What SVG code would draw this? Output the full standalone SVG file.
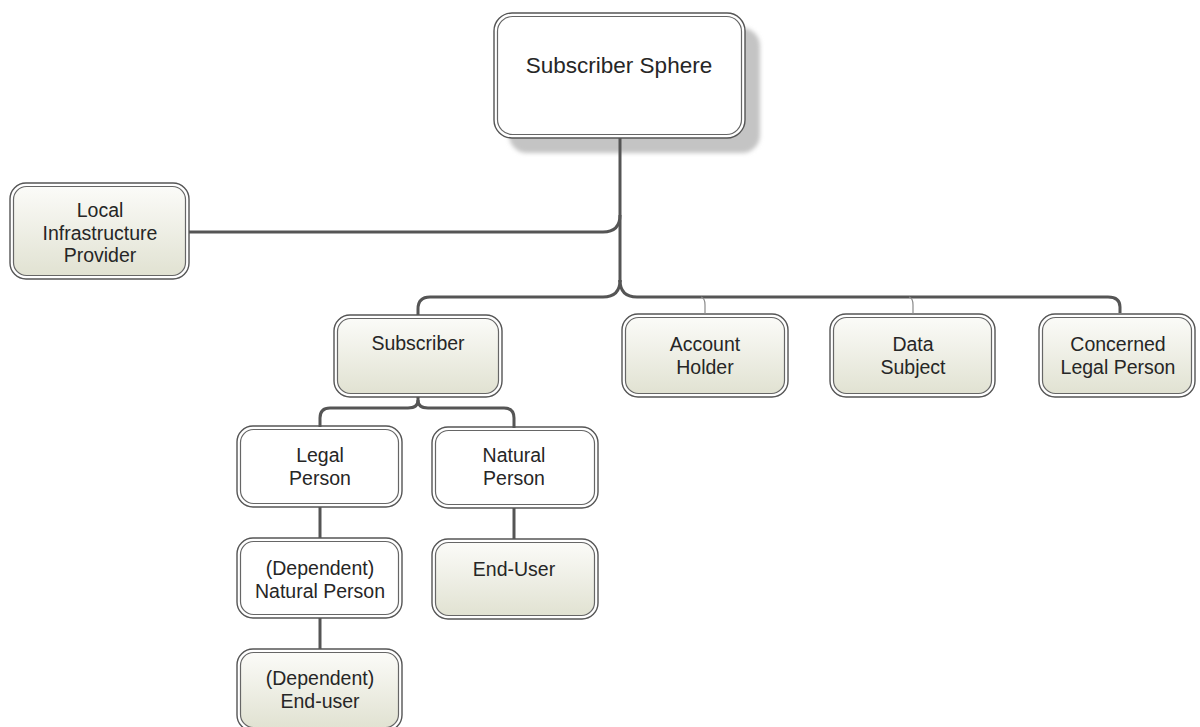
<svg xmlns="http://www.w3.org/2000/svg" width="1200" height="727" viewBox="0 0 1200 727">
  <defs>
    <linearGradient id="beige" x1="0" y1="0" x2="0" y2="1">
      <stop offset="0" stop-color="#fbfbf8"/>
      <stop offset="1" stop-color="#e1e2d2"/>
    </linearGradient>
    <filter id="soft" x="-10%" y="-10%" width="120%" height="120%">
      <feGaussianBlur stdDeviation="2"/>
    </filter>
  </defs>
  <style>
    .outer { fill: #ffffff; stroke: #555555; stroke-width: 1.4; }
    .inner { stroke: #666666; stroke-width: 1.2; }
    .plain { fill: #ffffff; }
    .tint { fill: url(#beige); }
    .label { font-family: "Liberation Sans", Arial, sans-serif; font-size: 19.5px; fill: #262626; text-anchor: middle; }
    .title { font-size: 22.5px; }
    .trunk { fill: none; stroke: #555555; stroke-width: 3; stroke-linecap: butt; }
    .twig { fill: none; stroke: #8a8a8a; stroke-width: 1.2; }
  </style>

  <!-- Subscriber Sphere -->
  <g id="node-subscriber-sphere">
    <rect x="509" y="28" width="251" height="125" rx="18" fill="#c4c4c4" filter="url(#soft)"/>
    <rect class="outer" x="494" y="13" width="251" height="125" rx="18"/>
    <rect class="inner plain" x="497.5" y="16.5" width="244" height="118" rx="15"/>
    <text class="label title" x="619" y="73">Subscriber Sphere</text>
  </g>

  <!-- Local Infrastructure Provider -->
  <g id="node-local-infrastructure-provider">
    <rect class="outer" x="10" y="183" width="179" height="96" rx="16"/>
    <rect class="inner tint" x="13.5" y="186.5" width="172" height="89" rx="13"/>
    <text class="label" x="100" y="217">Local</text>
    <text class="label" x="100" y="239.5">Infrastructure</text>
    <text class="label" x="100" y="262">Provider</text>
  </g>

  <!-- Subscriber -->
  <g id="node-subscriber">
    <rect class="outer" x="334" y="315" width="168" height="82" rx="16"/>
    <rect class="inner tint" x="337.5" y="318.5" width="161" height="75" rx="13"/>
    <text class="label" x="418" y="350">Subscriber</text>
  </g>

  <!-- Account Holder -->
  <g id="node-account-holder">
    <rect class="outer" x="622" y="314" width="166" height="83" rx="16"/>
    <rect class="inner tint" x="625.5" y="317.5" width="159" height="76" rx="13"/>
    <text class="label" x="705" y="351">Account</text>
    <text class="label" x="705" y="374">Holder</text>
  </g>

  <!-- Data Subject -->
  <g id="node-data-subject">
    <rect class="outer" x="830" y="314" width="165" height="83" rx="16"/>
    <rect class="inner tint" x="833.5" y="317.5" width="158" height="76" rx="13"/>
    <text class="label" x="913" y="351">Data</text>
    <text class="label" x="913" y="374">Subject</text>
  </g>

  <!-- Concerned Legal Person -->
  <g id="node-concerned-legal-person">
    <rect class="outer" x="1039" y="314" width="156" height="83" rx="16"/>
    <rect class="inner tint" x="1042.5" y="317.5" width="149" height="76" rx="13"/>
    <text class="label" x="1118" y="351">Concerned</text>
    <text class="label" x="1118" y="374">Legal Person</text>
  </g>

  <!-- Legal Person -->
  <g id="node-legal-person">
    <rect class="outer" x="237" y="426" width="165" height="81" rx="16"/>
    <rect class="inner plain" x="240.5" y="429.5" width="158" height="74" rx="13"/>
    <text class="label" x="320" y="462">Legal</text>
    <text class="label" x="320" y="485">Person</text>
  </g>

  <!-- Natural Person -->
  <g id="node-natural-person">
    <rect class="outer" x="432" y="427" width="166" height="81" rx="16"/>
    <rect class="inner plain" x="435.5" y="430.5" width="159" height="74" rx="13"/>
    <text class="label" x="514" y="462">Natural</text>
    <text class="label" x="514" y="485">Person</text>
  </g>

  <!-- (Dependent) Natural Person -->
  <g id="node-dependent-natural-person">
    <rect class="outer" x="237" y="538" width="165" height="80" rx="16"/>
    <rect class="inner plain" x="240.5" y="541.5" width="158" height="73" rx="13"/>
    <text class="label" x="320" y="575">(Dependent)</text>
    <text class="label" x="320" y="598">Natural Person</text>
  </g>

  <!-- End-User -->
  <g id="node-end-user">
    <rect class="outer" x="432" y="539" width="166" height="80" rx="16"/>
    <rect class="inner tint" x="435.5" y="542.5" width="159" height="73" rx="13"/>
    <text class="label" x="514" y="576">End-User</text>
  </g>

  <!-- (Dependent) End-user -->
  <g id="node-dependent-end-user">
    <rect class="outer" x="237" y="649" width="165" height="82" rx="16"/>
    <rect class="inner tint" x="240.5" y="652.5" width="158" height="75" rx="13"/>
    <text class="label" x="320" y="685">(Dependent)</text>
    <text class="label" x="320" y="708">End-user</text>
  </g>

  <!-- connectors, drawn last so the trunk shows over the title's shadow -->
  <g id="connectors">
    <path class="trunk" d="M620,138 V282"/>
    <path class="trunk" d="M189,232 H603 Q620,232 620,215"/>
    <path class="trunk" d="M620,280 Q620,297 603,297 H430 Q418,297 418,309 V315"/>
    <path class="trunk" d="M620,280 Q620,297 637,297 H1108 Q1120,297 1120,307 V313"/>
    <path class="twig" d="M701,297 Q705,298 705,305 V314"/>
    <path class="twig" d="M909,297 Q913,298 913,305 V314"/>
    <path class="trunk" d="M418,397 V400 Q418,408 408,408 H330 Q320,408 320,418 V427"/>
    <path class="trunk" d="M418,400 Q418,408 428,408 H504 Q514,408 514,418 V428"/>
    <path class="trunk" d="M320,507 V538"/>
    <path class="trunk" d="M514,508 V539"/>
    <path class="trunk" d="M320,618 V649"/>
  </g>
</svg>
